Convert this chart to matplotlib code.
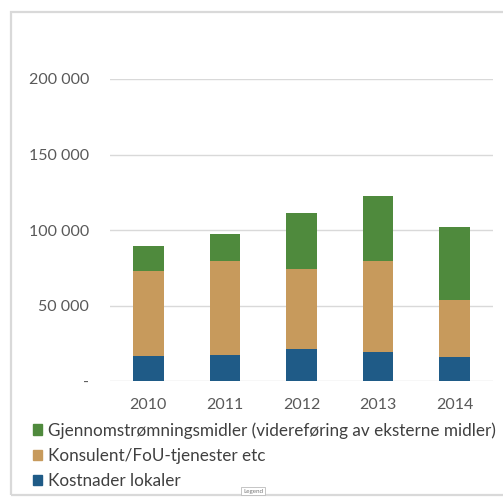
import matplotlib
matplotlib.use("Agg")
import matplotlib.pyplot as plt
from matplotlib.patches import Rectangle, Patch
from matplotlib.ticker import FuncFormatter

years = ["2010", "2011", "2012", "2013", "2014"]
kostnader_lokaler = [16300, 17000, 21000, 19400, 15900]
konsulent_fou = [56500, 62800, 53300, 60400, 37500]
gjennomstromning = [16300, 17700, 36800, 42800, 48900]

series_labels = [
    "Gjennomstrømningsmidler (videreføring av eksterne midler)",
    "Konsulent/FoU-tjenester etc",
    "Kostnader lokaler",
]
colors = {"green": "#4F8A3D", "tan": "#C79A5C", "blue": "#1F5B87"}

W, H = 503, 497
fig = plt.figure(figsize=(W / 100, H / 100), dpi=100)
plt.rcParams["font.family"] = ["Lato", "DejaVu Sans"]

# outer chart frame
fig.patches.append(Rectangle((11 / W, 1 - 495 / H), 600 / W, (495 - 12) / H,
                             transform=fig.transFigure, fill=False,
                             edgecolor="#D9D9D9", linewidth=1.6))

ax = fig.add_axes([110 / W, 1 - 381 / H, (493 - 110) / W, (381 - 79) / H])
x = range(len(years))
width = 0.4
ax.bar(x, kostnader_lokaler, width, color=colors["blue"], zorder=3)
ax.bar(x, konsulent_fou, width, bottom=kostnader_lokaler, color=colors["tan"], zorder=3)
bottom3 = [a + b for a, b in zip(kostnader_lokaler, konsulent_fou)]
ax.bar(x, gjennomstromning, width, bottom=bottom3, color=colors["green"], zorder=3)

ax.set_xlim(-0.5, len(years) - 0.5)
ax.set_ylim(0, 200000)
ax.set_yticks([0, 50000, 100000, 150000, 200000])


def fmt(v, pos):
    if v == 0:
        return "-"
    return f"{int(v):,}".replace(",", " ")


ax.yaxis.set_major_formatter(FuncFormatter(fmt))
ax.set_xticks(list(x))
ax.set_xticklabels(years)
ax.grid(axis="y", color="#D9D9D9", linewidth=1.0, zorder=0)
for s in ax.spines.values():
    s.set_visible(False)
ax.tick_params(axis="both", length=0, labelsize=11.5, labelcolor="#595959")
ax.tick_params(axis="y", pad=15)
ax.tick_params(axis="x", pad=12)

handles = [Patch(color=colors["green"]), Patch(color=colors["tan"]), Patch(color=colors["blue"])]
fig.legend(handles, series_labels, loc="upper left",
           bbox_to_anchor=(33 / W, 1 - 422 / H), frameon=False,
           fontsize=12.3, labelcolor="#404040", handlelength=0.55, handleheight=0.55,
           handletextpad=0.35, labelspacing=0.55, borderaxespad=0, borderpad=0)

# small selection tag under the legend
fig.text(253 / W, 1 - 491 / H, "Legend", fontsize=4.5, color="#777777",
         ha="center", va="center",
         bbox=dict(boxstyle="square,pad=0.3", fc="white", ec="#BBBBBB", lw=0.6))

fig.savefig("out.png", dpi=100)
